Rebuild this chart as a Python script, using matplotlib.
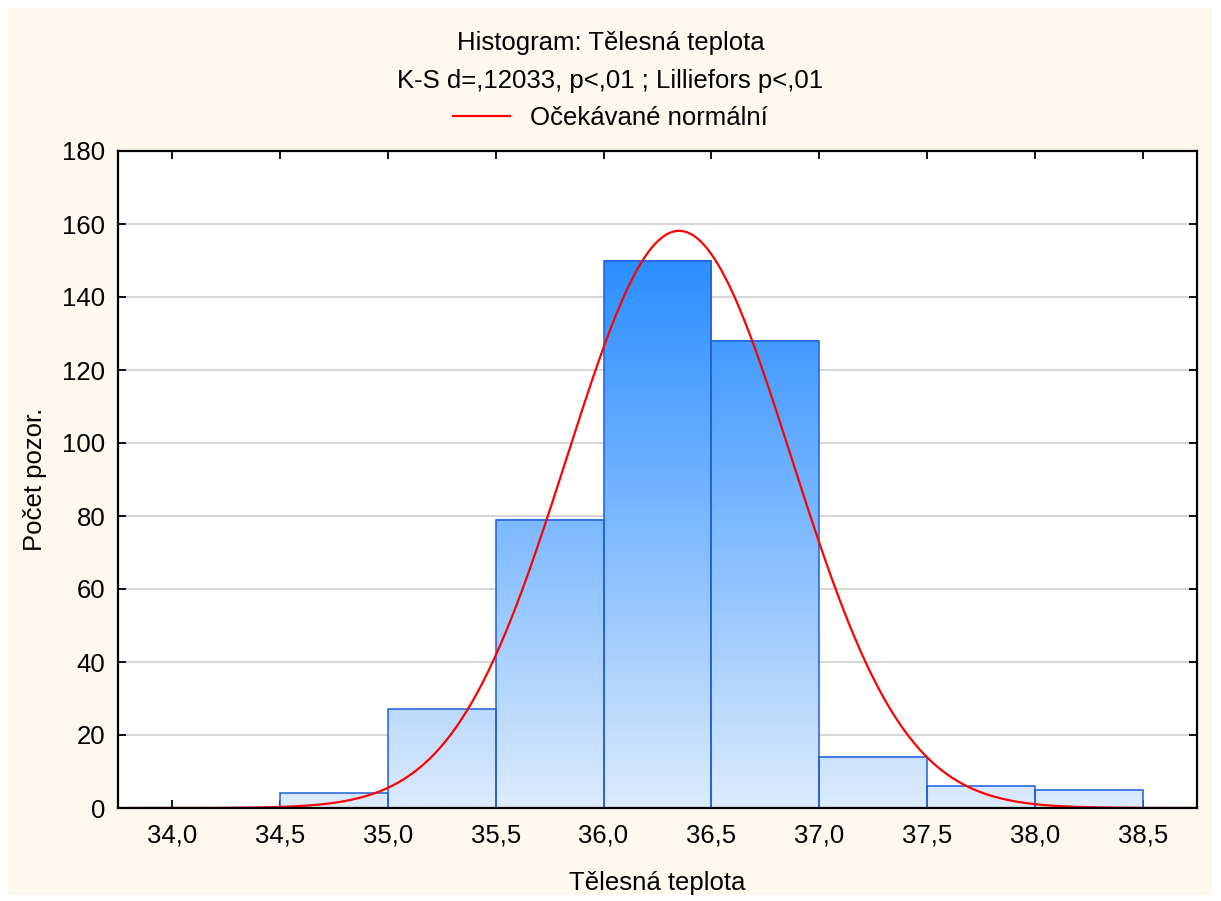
import numpy as np
import matplotlib
matplotlib.use('Agg')
from matplotlib import pyplot as plt
from matplotlib.colors import LinearSegmentedColormap
from matplotlib.patches import Rectangle

plt.rcParams['font.family'] = ['Liberation Sans', 'DejaVu Sans']

# data
bin_left = [34.0, 34.5, 35.0, 35.5, 36.0, 36.5, 37.0, 37.5, 38.0]
counts = [0, 4, 27, 79, 150, 128, 14, 6, 5]
bin_w = 0.5
mean_t = 36.35
sd_t = 0.521
x_ticks = [34.0, 34.5, 35.0, 35.5, 36.0, 36.5, 37.0, 37.5, 38.0, 38.5]
x_labels = ['34,0', '34,5', '35,0', '35,5', '36,0', '36,5', '37,0', '37,5', '38,0', '38,5']
y_ticks = [0, 20, 40, 60, 80, 100, 120, 140, 160, 180]

fs = 18.5

fig = plt.figure(figsize=(12.21, 9.01), dpi=100)
fig.patch.set_facecolor('white')
fig.patches.append(Rectangle((8 / 1221, 6 / 901), 1204 / 1221, 887 / 901,
                             transform=fig.transFigure, facecolor='#FEF9EF',
                             edgecolor='none', zorder=-10))
ax = fig.add_axes([118 / 1221, 93 / 901, 1079 / 1221, 657 / 901])

cmap = LinearSegmentedColormap.from_list('bl', ['#DDEBFC', '#80BBFF', '#2C8EFF'])
vmax = max(counts)
for x0, c in zip(bin_left, counts):
    if c > 0:
        grad = np.linspace(0, c, 256).reshape(-1, 1)
        ax.imshow(grad, cmap=cmap, vmin=0, vmax=vmax, origin='lower',
                  extent=[x0, x0 + bin_w, 0, c], aspect='auto', zorder=2,
                  interpolation='bilinear')
    ax.add_patch(Rectangle((x0, 0), bin_w, c, facecolor='none',
                           edgecolor='#1F5FD6', lw=1.1, zorder=3))

xs = np.linspace(33.75, 38.75, 600)
n = sum(counts)
ys = n * bin_w / (sd_t * np.sqrt(2 * np.pi)) * np.exp(-0.5 * ((xs - mean_t) / sd_t) ** 2)
line, = ax.plot(xs, ys, color='#FF0000', lw=1.6, zorder=4, label='Očekávané normální')

ax.set_xlim(33.75, 38.75)
ax.set_ylim(0, 180)
ax.set_xticks(x_ticks)
ax.set_xticklabels(x_labels)
ax.set_yticks(y_ticks)
ax.yaxis.grid(True, color='#D6D6D6', lw=1.5, zorder=0)
ax.set_axisbelow(True)
ax.tick_params(direction='in', top=True, right=True, length=6, width=1.3,
               labelsize=fs, colors='black')
ax.tick_params(axis='y', pad=9)
ax.tick_params(axis='x', pad=11)
for s in ax.spines.values():
    s.set_linewidth(1.6)
    s.set_zorder(5)
ax.set_facecolor('white')

ax.set_xlabel('Tělesná teplota', fontsize=fs, va='center')
ax.xaxis.set_label_coords(0.5, (808 - 883) / 657)
ax.set_ylabel('Počet pozor.', fontsize=fs, va='center', ha='center')
ax.yaxis.set_label_coords((35 - 118) / 1079, 0.5)

fig.text(0.5, 1 - 43 / 901, 'Histogram: Tělesná teplota', ha='center', va='center', fontsize=fs)
fig.text(0.5, 1 - 81 / 901, 'K-S d=,12033, p<,01 ; Lilliefors p<,01', ha='center', va='center', fontsize=fs)
fig.legend(handles=[line], loc='center', bbox_to_anchor=(0.5, 1 - 118 / 901),
           frameon=False, fontsize=fs, handlelength=2.2, handletextpad=0.8,
           borderpad=0, borderaxespad=0)

plt.savefig('out.png', dpi=100, facecolor=fig.get_facecolor())
